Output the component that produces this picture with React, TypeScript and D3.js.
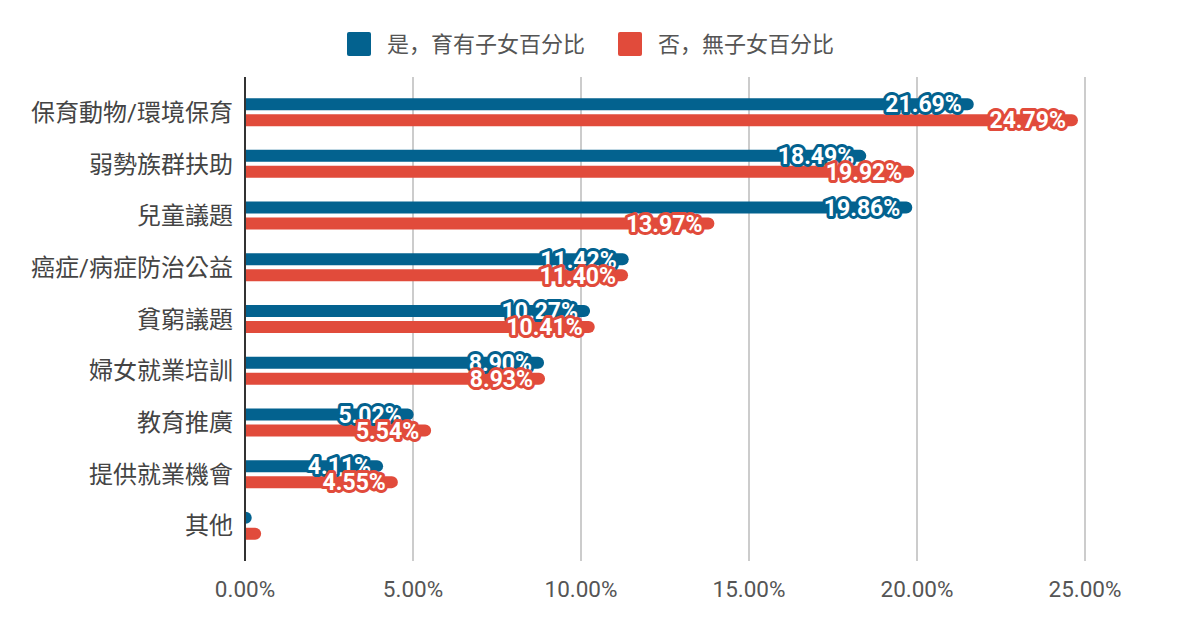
import React from "react";
import * as d3 from "d3";

const categories = ["保育動物/環境保育", "弱勢族群扶助", "兒童議題", "癌症/病症防治公益", "貧窮議題", "婦女就業培訓", "教育推廣", "提供就業機會", "其他"];
const yesValues = [21.69, 18.49, 19.86, 11.42, 10.27, 8.9, 5.02, 4.11, 0.2];
const noValues = [24.79, 19.92, 13.97, 11.4, 10.41, 8.93, 5.54, 4.55, 0.48];
const seriesNames = ["是，育有子女百分比", "否，無子女百分比"];
const ticks = [0, 5, 10, 15, 20, 25];
const labelled = [true, true, true, true, true, true, true, true, false];

const BLUE = "#03628f";
const RED = "#e14b3b";
const FONT = "Roboto, 'Noto Sans CJK TC', sans-serif";

function barPath(x0: number, x1: number, y: number, h: number, r: number) {
  const w = x1 - x0;
  const rr = Math.min(r, w, h / 2);
  return `M${x0},${y}H${x1 - rr}A${rr},${rr} 0 0 1 ${x1},${y + rr}V${y + h - rr}A${rr},${rr} 0 0 1 ${x1 - rr},${y + h}H${x0}Z`;
}

export default function App() {
  const W = 1200, H = 628;
  const x = d3.scaleLinear().domain([0, 25]).range([245, 1085]);
  const y = d3.scaleBand<string>().domain(categories).range([77, 561]).paddingOuter(0.18).paddingInner(0);
  const barH = 12;
  const gap = 2;
  const series = [
    { values: yesValues, color: BLUE, offset: -gap - barH },
    { values: noValues, color: RED, offset: gap },
  ];
  return (
    <svg width={W} height={H} style={{ position: "absolute", left: 0, top: 0, background: "#fff" }} fontFamily={FONT}>
      <rect width={W} height={H} fill="#fff" />
      {ticks.slice(1).map((t) => (
        <line key={t} x1={x(t)} x2={x(t)} y1={77} y2={561} stroke="#cccccc" strokeWidth={2} />
      ))}
      {ticks.map((t) => (
        <text key={t} x={x(t)} y={597} textAnchor="middle" fontSize={22.5} fill="#555">
          {d3.format(".2f")(t) + "%"}
        </text>
      ))}
      {categories.map((c) => (
        <text key={c} x={233} y={(y(c) as number) + y.bandwidth() / 2} dy="0.36em" textAnchor="end" fontSize={24} fill="#444">
          {c}
        </text>
      ))}
      {series.map((s, si) =>
        categories.map((c, i) => {
          const cy = (y(c) as number) + y.bandwidth() / 2;
          return (
            <path key={si + "-" + c} d={barPath(x(0), x(s.values[i]), cy + s.offset, barH, 6)} fill={s.color} />
          );
        })
      )}
      <line x1={245} x2={245} y1={77} y2={561} stroke="#333" strokeWidth={2} />
      {series.map((s, si) =>
        categories.map((c, i) => {
          if (!labelled[i]) return null;
          const cy = (y(c) as number) + y.bandwidth() / 2 + s.offset + barH / 2;
          return (
            <text
              key={"l" + si + "-" + c}
              x={x(s.values[i]) - 12}
              y={cy}
              dy="0.36em"
              textAnchor="end"
              fontSize={23}
              fontWeight="bold"
              fill="#fff"
              stroke={s.color}
              strokeWidth={6}
              strokeLinejoin="round"
              paintOrder="stroke"
            >
              {d3.format(".2f")(s.values[i]) + "%"}
            </text>
          );
        })
      )}
      {seriesNames.map((n, i) => {
        const lx = [347, 618][i];
        return (
          <g key={n}>
            <rect x={lx} y={32} width={24} height={24} rx={2} fill={i === 0 ? BLUE : RED} />
            <text x={lx + 40} y={44} dy="0.36em" fontSize={22} fill="#555" fontFamily="Roboto, 'Noto Sans CJK SC', sans-serif">
              {n}
            </text>
          </g>
        );
      })}
    </svg>
  );
}
